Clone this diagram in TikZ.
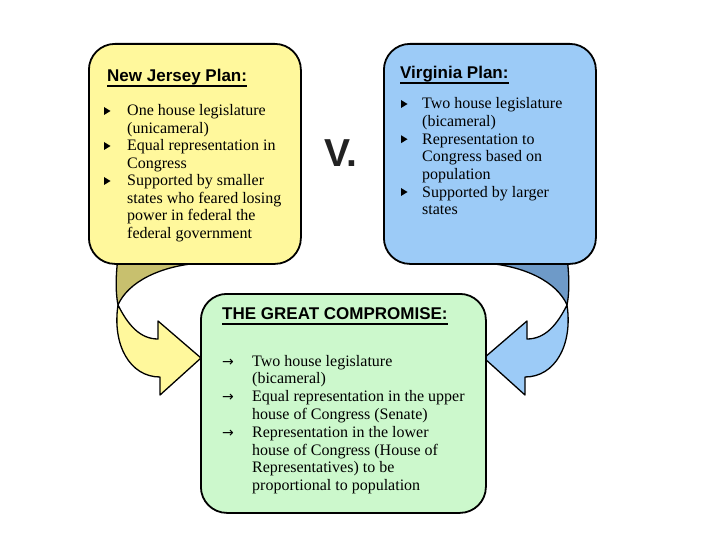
\documentclass[tikz,border=0pt]{standalone}
\usepackage{fontspec}
\setmainfont{Liberation Serif}
\newfontfamily\titlefont{Liberation Sans}
\newfontfamily\symfont{DejaVu Sans}
\usetikzlibrary{calc}
\definecolor{njfill}{HTML}{FFF89C}
\definecolor{njdark}{HTML}{C8C06E}
\definecolor{vafill}{HTML}{9CCBF7}
\definecolor{vadark}{HTML}{6E9AC8}
\definecolor{gcfill}{HTML}{CCF8CC}
\definecolor{vcol}{HTML}{222222}
\begin{document}
\begin{tikzpicture}[x=1pt,y=-1pt,
  box/.style={draw=black, line width=1.8pt, rounded corners=26pt, anchor=north west, inner sep=0pt},
  ttl/.style={anchor=base west, inner sep=0pt, font=\titlefont\bfseries\fontsize{17}{20}\selectfont},
  txt/.style={anchor=base west, inner sep=0pt, font=\fontsize{16}{18}\selectfont},
  arrb/.style={anchor=base west, inner sep=0pt, font=\symfont\fontsize{14}{16}\selectfont},
  uline/.style={line width=1.4pt},
  shape line/.style={draw=black, line width=1.3pt, line join=round}]
\useasboundingbox (0,0) rectangle (720,540);
\fill[white] (0,0) rectangle (720,540);

% curved arrows (behind the boxes)
\begin{scope}
  \filldraw[fill=njdark, shape line] (119,250) -- (200,250) -- (200,263)
     .. controls (160,266) and (128,282) .. (118,305)
     .. controls (115,290) and (116,270) .. (119,250) -- cycle;
  \filldraw[fill=njfill, shape line] (118,305)
     .. controls (128,325) and (140,339) .. (158,339)
     -- (158,321) -- (201,358) -- (160,395) -- (160,377)
     .. controls (130,377) and (112,345) .. (118,305) -- cycle;
\end{scope}
\begin{scope}[xshift=685pt, xscale=-1]
  \filldraw[fill=vadark, shape line] (119,250) -- (200,250) -- (200,263)
     .. controls (160,266) and (128,282) .. (118,305)
     .. controls (115,290) and (116,270) .. (119,250) -- cycle;
  \filldraw[fill=vafill, shape line] (118,305)
     .. controls (128,325) and (140,339) .. (158,339)
     -- (158,321) -- (201,358) -- (160,395) -- (160,377)
     .. controls (130,377) and (112,345) .. (118,305) -- cycle;
\end{scope}

% boxes
\node[box, fill=njfill, minimum width=212pt, minimum height=220pt] (nj) at (88,43) {};
\node[box, fill=vafill, minimum width=212pt, minimum height=220pt] (va) at (383,43) {};
\node[box, fill=gcfill, minimum width=285pt, minimum height=219pt] (gc) at (200,293) {};

% V.
\node[anchor=base west, inner sep=0pt, text=vcol, font=\titlefont\bfseries\fontsize{39}{40}\selectfont] (vs) at (324,167) {V.};

% titles
\node[ttl] (njt) at (107,82) {New Jersey Plan:};
\draw[uline] ($(njt.base west)+(0,4)$) -- ($(njt.base east)+(0,4)$);
\node[ttl] (vat) at (400,79) {Virginia Plan:};
\draw[uline] ($(vat.base west)+(0,4)$) -- ($(vat.base east)+(0,4)$);
\node[ttl] (gct) at (222,319) {THE GREAT COMPROMISE:};
\draw[uline] ($(gct.base west)+(0,5)$) -- ($(gct.base east)+(0,5)$);

% New Jersey text
\foreach \t [count=\i from 0] in {{One house legislature},{(unicameral)},{Equal representation in},{Congress},{Supported by smaller},{states who feared losing},{power in federal the},{federal government}}
  \node[txt] (nj\i) at (127,116+17.5*\i) {\t};
\foreach \i in {0,2,4}
  \fill (104,116+17.5*\i-9) -- (110.5,116+17.5*\i-5) -- (104,116+17.5*\i-1) -- cycle;

% Virginia text
\foreach \t [count=\i from 0] in {{Two house legislature},{(bicameral)},{Representation to},{Congress based on},{population},{Supported by larger},{states}}
  \node[txt] (va\i) at (422,109+17.6*\i) {\t};
\foreach \i in {0,2,5}
  \fill (401,109+17.6*\i-9) -- (407.5,109+17.6*\i-5) -- (401,109+17.6*\i-1) -- cycle;

% Compromise text
\foreach \t [count=\i from 0] in {{Two house legislature},{(bicameral)},{Equal representation in the upper},{house of Congress (Senate)},{Representation in the lower},{house of Congress (House of},{Representatives) to be},{proportional to population}}
  \node[txt] (gc\i) at (252,366+17.8*\i) {\t};
\foreach \i in {0,2,4}
  \node[arrb] (ga\i) at (222,366+17.8*\i) {→};
\end{tikzpicture}
\end{document}
